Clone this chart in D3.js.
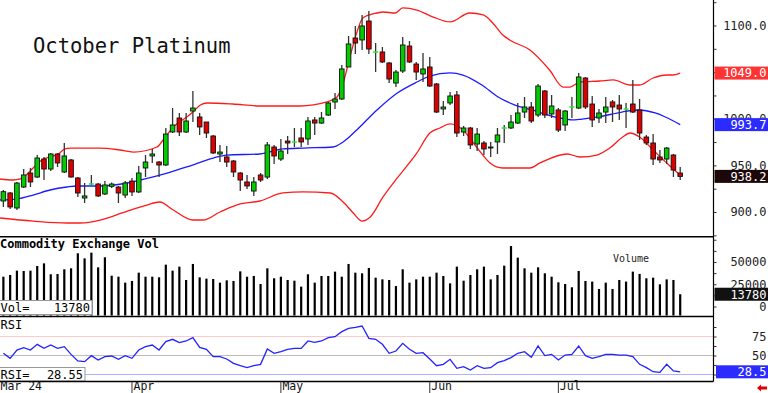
<!DOCTYPE html>
<html><head><meta charset="utf-8">
<script src="https://cdn.jsdelivr.net/npm/d3@7"></script>
<style>body{margin:0;background:#fff;} svg{display:block;}</style>
</head><body><svg id="c" width="768" height="393"></svg>
<script>
// ---------------- data ----------------
const title = "October Platinum";
const candleOpen = [911.8,920.4,904.3,926.8,941.8,937.5,956.8,946.1,962.2,942.9,
955.8,936.5,915.0,929.5,930.0,919.3,927.5,926.8,918.2,933.2,
921.5,947.2,960.1,953.6,950.4,985.8,1000.8,985.8,1008.3,1001.9,
996.5,981.5,962.2,959.0,954.7,941.8,932.2,922.5,939.7,937.5,
969.7,956.8,976.1,974.8,979.4,978.3,998.7,995.4,1004.0,1018.0,
1021.2,1055.5,1086.6,1084.5,1104.8,1071.3,1071.6,1059.8,1038.3,1051.2,
1078.0,1058.7,1048.0,1055.5,1037.3,1010.5,1016.9,1025.5,985.8,990.1,
972.9,974.0,968.6,975.1,989.8,990.1,995.4,1007.2,1012.6,1004.0,
1029.8,1005.1,1009.4,993.3,1012.3,1011.5,1043.7,1015.8,1000.8,1007.2,
1018.0,1014.7,1010.2,1015.8,1009.4,980.4,974.0,959.0,956.8,961.1,
941.8];
const candleHigh = [923.6,921.5,932.2,946.1,947.2,961.1,959.0,963.3,963.3,974.0,
956.8,937.5,931.1,939.7,931.1,933.2,931.6,927.9,933.2,936.5,
949.3,961.1,967.6,954.7,990.1,1011.5,1006.2,1006.2,1029.8,1006.2,
996.5,982.6,971.9,970.8,955.8,942.9,939.7,937.5,941.8,975.1,
971.9,978.3,981.5,990.1,990.1,1001.9,1001.9,1007.2,1018.0,1027.6,
1057.6,1088.7,1099.5,1111.3,1115.6,1081.2,1077.0,1060.9,1052.3,1087.6,
1083.4,1060.9,1070.5,1066.2,1038.3,1019.0,1028.7,1029.8,992.2,991.2,
990.1,976.1,975.1,990.1,993.3,1004.0,1016.9,1023.3,1018.0,1037.3,
1030.8,1025.5,1011.5,1009.4,1023.3,1049.1,1044.8,1024.4,1010.5,1023.3,
1020.1,1025.5,1016.9,1041.6,1021.2,982.6,983.6,966.5,969.7,962.2,
948.3];
const candleLow = [905.4,903.2,902.1,925.7,926.8,936.5,934.3,944.0,948.3,941.8,
937.0,916.1,909.7,929.0,916.1,918.2,925.7,909.7,915.0,917.2,
920.4,937.5,952.6,937.5,949.3,984.7,981.5,984.7,996.5,982.6,
979.4,962.2,953.6,948.3,937.5,922.5,924.7,917.2,932.2,935.4,
951.5,954.7,962.2,969.7,969.7,971.9,982.6,994.4,1002.9,1010.5,
1020.1,1055.5,1069.4,1073.7,1069.4,1050.1,1059.8,1038.3,1034.0,1049.1,
1059.8,1041.6,1039.4,1034.0,1006.2,1004.0,1014.7,980.4,981.5,967.6,
965.4,961.1,959.0,962.2,974.0,989.0,994.4,1000.8,995.4,1001.9,
1000.8,1000.8,985.8,986.9,1000.8,1010.5,1010.5,991.2,995.4,995.4,
996.5,998.7,990.1,1006.2,977.2,971.9,950.4,952.6,951.5,937.5,
934.3];
const candleClose = [921.8,905.4,931.1,939.7,932.2,957.9,946.1,962.2,952.6,960.1,
937.5,920.4,917.2,930.0,917.2,929.0,930.0,920.4,931.1,921.5,
941.8,953.6,962.2,950.4,983.6,993.3,985.8,997.6,1011.5,991.2,
984.7,963.3,964.3,953.6,942.9,934.3,927.9,932.2,934.3,971.9,
960.1,965.4,974.0,975.1,975.1,997.6,995.4,1000.8,1016.9,1021.2,
1053.4,1080.2,1081.2,1099.5,1074.8,1071.6,1060.9,1042.6,1050.1,1079.1,
1060.9,1050.1,1053.4,1035.1,1007.2,1012.6,1024.4,984.7,990.1,971.9,
983.6,967.6,969.7,982.6,990.1,996.5,1006.2,1012.6,997.6,1035.1,
1004.0,1013.7,987.9,1008.3,1012.6,1044.8,1012.6,998.7,1006.2,1012.6,
1012.6,1010.5,1010.5,1007.2,984.7,974.0,956.8,955.8,968.6,945.0,
938.2];

const upperIdx = [-0.5,1.4,2.5,3.2,4.4,5.9,6.9,8.1,9.1,9.9,14.3,17.2,19.2,22.7,23.6,25.1,27.1,28.0,29.1,30.1,33.9,37.9,43.8,47.8,49.3,50.2,51.2,52.2,53.1,55.2,56.1,57.9,59.0,61.1,63.5,66.0,68.9,70.9,72.3,73.8,74.8,77.8,80.7,82.7,83.7,85.2,88.1,90.1,92.6,94.0,96.0,98.0,98.9,100];
const upperVal = [935.4,934.3,935.4,938.6,947.2,956.8,959.0,962.2,967.6,968.6,968.6,966.5,964.3,969.7,977.2,991.2,1001.9,1007.2,1014.7,1016.9,1015.8,1013.7,1013.7,1018.0,1023.3,1038.3,1066.2,1092.0,1108.1,1113.4,1114.5,1113.4,1118.8,1116.6,1109.1,1103.8,1113.4,1111.3,1102.7,1089.8,1084.5,1073.7,1052.3,1034.0,1034.0,1039.4,1040.5,1041.6,1036.2,1036.2,1043.7,1046.9,1046.9,1049.0];
const midIdx = [-0.5,2.0,4.4,6.9,9.4,10.9,14.3,18.3,20.2,24.2,27.1,31.0,33.0,37.9,41.3,44.3,48.7,50.2,52.2,55.2,58.2,61.1,63.0,66.0,67.9,70.7,73.1,75.6,78.1,80.5,82.2,84.0,85.5,87.9,91.4,93.8,96.3,97.8,100];
const midVal = [912.9,913.9,918.2,923.6,926.8,927.9,927.9,931.1,934.3,941.8,948.3,957.9,961.1,962.2,967.6,968.6,969.7,975.1,987.9,1009.4,1027.6,1039.4,1045.8,1049.1,1046.9,1036.2,1023.3,1014.7,1009.4,1004.0,1000.8,998.7,999.7,1001.9,1007.2,1009.4,1006.2,1001.9,993.7];
const lowerIdx = [-0.5,4.4,9.4,11.3,14.3,15.8,19.2,21.2,23.1,25.1,28.0,29.5,32.0,35.0,37.9,41.3,44.3,48.3,50.2,51.7,53.0,54.2,56.1,58.2,61.1,63.0,64.5,66.0,67.9,69.9,71.9,73.8,77.8,79.3,83.3,85.2,87.7,89.6,91.5,92.6,94.0,96.0,98.0,100];
const lowerVal = [893.6,890.3,888.2,888.2,891.4,894.6,903.2,907.5,910.7,902.1,891.4,891.4,900.0,908.6,911.8,920.4,921.5,920.4,910.7,898.9,890.3,894.6,916.1,936.5,963.3,984.7,990.1,994.4,987.9,969.7,952.6,947.2,947.2,952.6,962.2,959.0,961.1,968.6,980.4,984.7,980.4,966.5,952.6,939.7];

const volume = [33500,35400,40300,39900,40300,45500,48500,36200,36500,41800,
42900,59800,54100,60500,44000,55300,34600,33500,26800,28700,
38000,33500,33500,32800,47000,40300,44800,29800,47800,32800,
31300,30900,26800,29400,28700,39500,33500,34300,25300,42900,
31700,33500,29800,29000,22300,36200,26800,34300,34300,39200,
33500,47800,38000,37300,43300,32400,30500,29800,23000,41800,
26800,30500,33500,33500,38000,34300,26000,44800,29000,35400,
41800,44800,30500,35400,45900,68000,54900,42900,38000,44000,
37300,33500,27200,25300,21600,39900,28700,28000,19700,26800,
19700,29800,28000,39200,36600,31700,32400,24900,30500,29800,
13780];
const rsi = [52.9,46.3,57.2,60.3,57.2,64.7,59.4,63.8,59.4,61.6,
51.5,42.8,41.9,49.8,44.1,48.5,49.3,45.0,49.8,46.3,
57.2,61.6,63.8,57.2,68.2,71.3,66.9,69.1,73.5,60.7,
58.1,48.5,48.5,45.4,39.7,36.6,34.0,36.6,38.4,58.6,
52.9,55.0,58.1,59.4,59.4,69.1,67.3,69.1,73.5,74.8,
81.4,85.7,87.1,88.8,72.6,71.3,64.7,52.9,55.9,66.0,
58.1,52.9,53.7,45.4,36.6,38.4,45.0,33.1,35.3,30.9,
36.6,33.1,34.0,40.6,43.2,47.2,52.9,55.0,47.6,62.5,
49.8,51.5,44.1,50.6,51.5,62.5,49.8,46.3,48.5,51.5,
51.5,50.6,50.6,48.5,38.4,34.0,28.7,27.9,38.4,29.6,
28.55];

const priceTicks = [900,950,1000,1050,1100];
const volTicks = [0,25000,50000];
const rsiTicks = [50,75];
const rsiRefLines = [25,50,75];
const monthLabels = ["Mar 24","Apr","May","Jun","Jul"];
const monthIdx = [-0.5,19,41,63,82];
const lastUpper = 1049.0, lastMid = 993.7, lastClose = 938.2, lastVol = 13780, lastRsi = 28.55;

// ---------------- layout ----------------
const svg = d3.select("#c");
const FONT = "'DejaVu Sans Mono', monospace";
const axisX = 713.5;
const P = {top:0, bottom:236.7};
const V = {top:236.7, bottom:316.5};
const R = {top:316.5, bottom:381.5};

const n = candleClose.length;
const x = d3.scaleLinear().domain([-0.5, n-1]).range([0, 680.2]);
const yP = d3.scaleLinear().domain([900,1100]).range([212,25.5]);
const yV = d3.scaleLinear().domain([0,50000]).range([306.5,262]);
const yR = d3.scaleLinear().domain([25,75]).range([374.5,336.5]);

const defs = svg.append("defs");
function clip(id, t, b){ defs.append("clipPath").attr("id",id).append("rect").attr("x",0).attr("y",t).attr("width",axisX).attr("height",b-t); }
clip("cp",P.top,P.bottom); clip("cv",V.top,V.bottom); clip("cr",R.top,R.bottom);

svg.append("rect").attr("width",768).attr("height",393).attr("fill","#fff");

// ---------------- price panel ----------------
const gP = svg.append("g").attr("clip-path","url(#cp)");
gP.append("text").attr("x",33).attr("y",53.3).attr("font-family",FONT).attr("font-size",20.5)
  .attr("fill","#111").text(title);

const bandLine = d3.line().x(d=>x(d[0])).y(d=>yP(d[1])).curve(d3.curveMonotoneX);
gP.append("path").datum(d3.zip(upperIdx,upperVal)).attr("d",bandLine).attr("fill","none").attr("stroke","#ff1a1a").attr("stroke-width",1.3);
gP.append("path").datum(d3.zip(lowerIdx,lowerVal)).attr("d",bandLine).attr("fill","none").attr("stroke","#ff1a1a").attr("stroke-width",1.3);
gP.append("path").datum(d3.zip(midIdx,midVal)).attr("d",bandLine).attr("fill","none").attr("stroke","#1a1aff").attr("stroke-width",1.3);

const candles = d3.range(n).map(i=>({i,o:candleOpen[i],h:candleHigh[i],l:candleLow[i],c:candleClose[i]}));
const gc = gP.append("g").selectAll("g").data(candles).join("g");
gc.append("line").attr("x1",d=>x(d.i)).attr("x2",d=>x(d.i))
  .attr("y1",d=>yP(d.h)).attr("y2",d=>yP(d.l)).attr("stroke","#333").attr("stroke-width",1.3);
gc.filter(d=>Math.abs(d.c-d.o)>=1).append("rect")
  .attr("x",d=>x(d.i)-2.3).attr("width",4.6)
  .attr("y",d=>yP(Math.max(d.o,d.c))).attr("height",d=>Math.abs(yP(d.o)-yP(d.c)))
  .attr("fill",d=>d.c>d.o?"#00cc00":"#dd0000").attr("stroke","#111").attr("stroke-width",0.9);
gc.filter(d=>Math.abs(d.c-d.o)<1).append("line")
  .attr("x1",d=>x(d.i)-2.5).attr("x2",d=>x(d.i)+2.5)
  .attr("y1",d=>yP(d.c)).attr("y2",d=>yP(d.c)).attr("stroke","#22ee22").attr("stroke-width",1.6);

// ---------------- volume panel ----------------
const gV = svg.append("g").attr("clip-path","url(#cv)");
gV.selectAll("rect.v").data(volume).join("rect").attr("class","v")
  .attr("x",(d,i)=>x(i)-1.1).attr("width",2.2)
  .attr("y",d=>yV(d)).attr("height",d=>V.bottom-1-yV(d)).attr("fill","#000");
svg.append("text").attr("x",0).attr("y",248).attr("font-family",FONT).attr("font-size",12).attr("font-weight","bold")
  .attr("fill","#000").text("Commodity Exchange Vol");
svg.append("text").attr("x",613).attr("y",262).attr("font-family",FONT).attr("font-size",10).attr("fill","#222").text("Volume");
svg.append("rect").attr("x",-1).attr("y",300.5).attr("width",93).attr("height",14).attr("fill","#fff").attr("stroke","#999");
svg.append("text").attr("x",0.5).attr("y",311.5).attr("font-family",FONT).attr("font-size",12).attr("fill","#000").text("Vol=");
svg.append("text").attr("x",90).attr("y",311.5).attr("text-anchor","end").attr("font-family",FONT).attr("font-size",12).attr("fill","#000").text(d3.format("d")(lastVol));

// ---------------- RSI panel ----------------
const gR = svg.append("g").attr("clip-path","url(#cr)");
const refCol = {25:"#aab2ff",50:"#bdbdbd",75:"#ffcaca"};
rsiRefLines.forEach(v=>gR.append("line").attr("x1",0).attr("x2",axisX).attr("y1",yR(v)).attr("y2",yR(v)).attr("stroke",refCol[v]).attr("stroke-width",1));
gR.append("path").datum(rsi).attr("fill","none").attr("stroke","#2222ff").attr("stroke-width",1.3)
  .attr("d",d3.line().x((d,i)=>x(i)).y(d=>yR(d)));
svg.append("text").attr("x",0.5).attr("y",329).attr("font-family",FONT).attr("font-size",12).attr("fill","#000").text("RSI");
svg.append("rect").attr("x",-1).attr("y",367.5).attr("width",86).attr("height",13.5).attr("fill","#fff").attr("stroke","#999");
svg.append("text").attr("x",0.5).attr("y",378.5).attr("font-family",FONT).attr("font-size",12).attr("fill","#000").text("RSI=");
svg.append("text").attr("x",83).attr("y",378.5).attr("text-anchor","end").attr("font-family",FONT).attr("font-size",12).attr("fill","#000").text(d3.format(".2f")(lastRsi));

// ---------------- frame ----------------
[P.bottom, V.bottom, R.bottom].forEach(yy=>svg.append("line").attr("x1",0).attr("x2",axisX).attr("y1",yy).attr("y2",yy).attr("stroke","#000").attr("stroke-width",1.6));
svg.append("line").attr("x1",axisX).attr("x2",axisX).attr("y1",0).attr("y2",R.bottom).attr("stroke","#000").attr("stroke-width",1.2);

// ---------------- right axes ----------------
function axis(scale, minor, labels, fmt, top, bottom){
  const g = svg.append("g").attr("transform",`translate(${axisX},0)`);
  g.call(d3.axisRight(scale).tickValues(minor.filter(v=>{const p=scale(v);return p>top+1&&p<bottom-1;})).tickSize(3).tickFormat(""));
  g.select(".domain").remove();
  g.selectAll(".tick line").attr("stroke","#333");
  labels.forEach(v=>svg.append("text").attr("x",766.5).attr("y",scale(v)+4.3).attr("text-anchor","end")
    .attr("font-family",FONT).attr("font-size",12).attr("fill","#222").text(fmt(v)));
}
axis(yP, d3.range(850,1151,25), priceTicks, d3.format(".1f"), P.top, P.bottom);
axis(yV, d3.range(0,100001,12500), volTicks, d3.format("d"), V.top, V.bottom);
axis(yR, d3.range(0,101,12.5), rsiTicks, d3.format("d"), R.top, R.bottom);

function valueBox(yc, txt, fill, x0){
  svg.append("rect").attr("x",x0).attr("y",yc-6.5).attr("width",768-x0).attr("height",13).attr("fill",fill);
  svg.append("text").attr("x",766.5).attr("y",yc+4.3).attr("text-anchor","end").attr("font-family",FONT)
    .attr("font-size",12).attr("fill","#fff").text(txt);
}
valueBox(yP(lastUpper), d3.format(".1f")(lastUpper), "#ff3333", 714.5);
valueBox(yP(lastMid), d3.format(".1f")(lastMid), "#2b2bff", 714.5);
valueBox(yP(lastClose), d3.format(".1f")(lastClose), "#1c0808", 714.5);
valueBox(yV(lastVol), d3.format("d")(lastVol), "#111", 714.5);
valueBox(yR(lastRsi), d3.format(".1f")(Math.floor(lastRsi*10)/10), "#2b2bff", 716);

// ---------------- date axis ----------------
monthLabels.forEach((m,k)=>{
  const xx = Math.max(0, x(monthIdx[k]));
  if (k>0) svg.append("line").attr("x1",xx).attr("x2",xx).attr("y1",R.bottom).attr("y2",393).attr("stroke","#333").attr("stroke-width",1);
  svg.append("text").attr("x",k>0?xx+1.5:0.5).attr("y",390.3).attr("font-family",FONT).attr("font-size",11.5).attr("fill","#111").text(m);
});
// red arrow bottom-right
svg.append("path").attr("d","M757,388 L761,384.5 L761,386.5 L767,386.5 L767,389.5 L761,389.5 L761,391.5 Z").attr("fill","#e00000");
</script></body></html>
